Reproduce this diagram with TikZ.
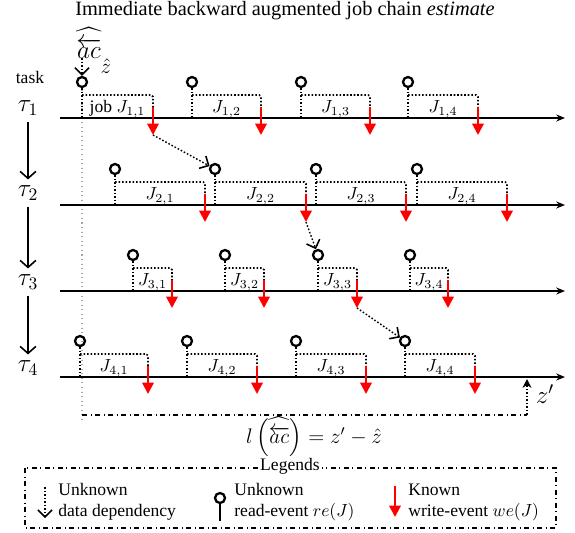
\documentclass[tikz,border=0pt]{standalone}
\usepackage{amsmath,amsfonts}
\usepackage{xcolor}
\usepackage{fontspec}
\setmainfont{Liberation Serif}
\usetikzlibrary{arrows.meta}

\newcommand{\bwchain}{\widehat{\overleftarrow{ac}\rule{0pt}{2ex}}}

\tikzset{
    readev/.style={draw,circle,line width=1.3pt,minimum size=2mm,inner sep=0pt},
    stem/.style={line width=0.9pt,dash pattern=on 0.9pt off 1.1pt},
    writeev/.style={red,line width=1.3pt,-{Triangle[length=6.5pt,width=6.5pt]}},
    depend/.style={line width=0.8pt,dash pattern=on 0.9pt off 1.1pt,-{Straight Barb[length=4pt,width=8pt,line width=0.9pt]}},
    timeline/.style={line width=1.1pt,-{Stealth[length=5pt,width=4pt]}},
    taskflow/.style={line width=0.9pt,-{Straight Barb[length=4pt,width=9pt,line width=0.9pt]}},
    joblbl/.style={font=\normalsize,inner sep=1pt},
    legtext/.style={anchor=west,align=left,inner sep=0pt,font=\normalsize},
}

\begin{document}
\begin{tikzpicture}[x=0.02cm,y=-0.02cm]
    \useasboundingbox (0,0) rectangle (575,532);
    \node[font=\fontsize{11.6}{14}\selectfont,inner sep=1pt] (title) at (285,11) {Immediate backward augmented job chain \emph{estimate}};
    \node[font=\Large,inner sep=0pt] (ac) at (89,43) {$\bwchain$};
    \node[font=\large,inner sep=1pt] (zhat) at (106,66) {$\hat{z}$};
    \node (task) at (30,77) {task};
    \node[font=\Large] (tau1) at (28,108) {$\tau_1$};
    \node[font=\Large] (tau2) at (28,193) {$\tau_2$};
    \node[font=\Large] (tau3) at (28,282) {$\tau_3$};
    \node[font=\Large] (tau4) at (28,368) {$\tau_4$};
    \draw[taskflow] (tau1) -- (tau2);
    \draw[taskflow] (tau2) -- (tau3);
    \draw[taskflow] (tau3) -- (tau4);

    \coordinate (g1) at (82,90);
    \coordinate (g2) at (82,423);
    \draw[gray!70,dotted,line width=0.6pt] (g1) -- (g2);

    \foreach \t/\y in {1/118,2/205,3/291,4/377}{
        \coordinate (s\t) at (60,\y);
        \coordinate (t\t) at (565,\y);
        \draw[timeline] (s\t) -- (t\t);
    }

    \foreach \t/\j/\r/\w/\y in {
        1/1/82/153/118, 1/2/192/261/118, 1/3/301/370/118, 1/4/408/478/118,
        2/1/115/205/205, 2/2/215/306/205, 2/3/316/406/205, 2/4/417/507/205,
        3/1/133/172/291, 3/2/225/264/291, 3/3/318/357/291, 3/4/410/448/291,
        4/1/80/148/377, 4/2/187/257/377, 4/3/296/366/377, 4/4/405/475/377}{
        \node[readev] (r\t\j) at (\r,\y-36) {};
        \coordinate (b\t\j) at (\r,\y);
        \coordinate (h\t\j) at (\r,\y-23);
        \coordinate (w\t\j) at (\w,\y-11);
        \coordinate (e\t\j) at (\w,\y+17);
        \draw[stem] (r\t\j) -- (b\t\j);
        \draw[stem,rounded corners=1pt] (h\t\j) -| (w\t\j);
        \draw[writeev] (w\t\j) -- (e\t\j);
        \node[joblbl] (l\t\j) at ({(\r+\w)/2},\y-9) {\ifnum\t\j=11 job \fi$J_{\t,\j}$};
    }

    \coordinate (acb) at (82,58);
    \draw[depend] (acb) -- (r11);
    \draw[depend] (e11) -- (r22);
    \draw[depend] (e22) -- (r33);
    \draw[depend] (e33) -- (r44);

    \coordinate (zb1) at (82,415);
    \coordinate (zb2) at (527,415);
    \coordinate (zp) at (527,379);
    \draw[dashdotted,line width=0.7pt] (zb1) -- (zb2);
    \draw[stem,-{Stealth[length=5pt,width=5pt]}] (zb2) -- (zp);
    \node[font=\Large] (zprime) at (545,394) {$z'$};
    \node[font=\large,inner sep=0pt] (len) at (314,437) {$l\left(\bwchain\right) = z' - \hat{z}$};

    \coordinate (lg1) at (25,468);
    \coordinate (lg2) at (556,528);
    \draw[dashdotted,line width=0.7pt] (lg1) rectangle (lg2);
    \node[fill=white,inner sep=1pt] (legtitle) at (290,466) {Legends};
    \coordinate (d1) at (45,487);
    \coordinate (d2) at (45,518);
    \draw[depend] (d1) -- (d2);
    \node[legtext] (dtext) at (58,502) {Unknown\\data dependency};
    \node[readev] (rleg) at (220,498) {};
    \coordinate (rlegb) at (220,521);
    \draw[line width=1.2pt] (rleg) -- (rlegb);
    \node[legtext] (rtext) at (234,502) {Unknown\\read-event $re(J)$};
    \coordinate (wl1) at (395,486);
    \coordinate (wl2) at (395,517);
    \draw[writeev] (wl1) -- (wl2);
    \node[legtext] (wtext) at (408,502) {Known\\write-event $we(J)$};
\end{tikzpicture}
\end{document}
